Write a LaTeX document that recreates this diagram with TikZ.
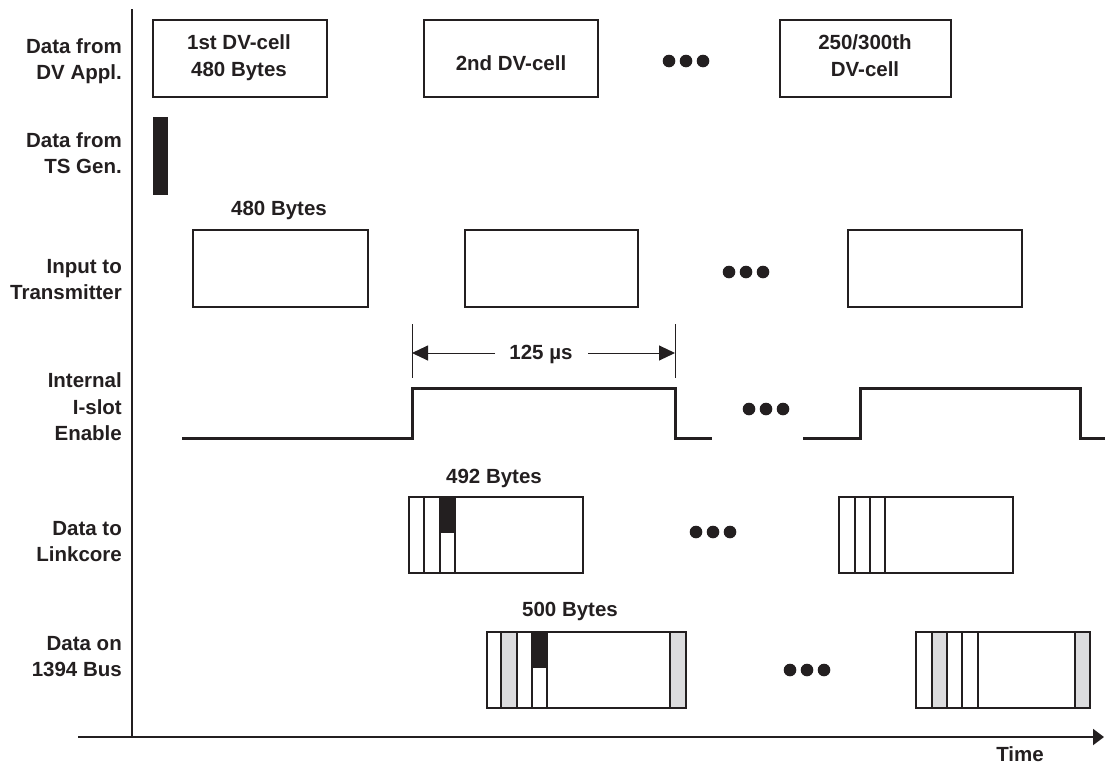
\documentclass[tikz,border=0pt]{standalone}
\usepackage{fontspec}
\setmainfont{Liberation Sans}
\usetikzlibrary{arrows.meta}
\definecolor{ink}{RGB}{35,31,32}
\definecolor{cellgray}{RGB}{220,220,222}
\tikzset{
  lbl/.style={font=\fontsize{20.5}{26}\selectfont\bfseries, text=ink, inner sep=0pt},
  rowlbl/.style={lbl, anchor=base east},
  ctext/.style={lbl, anchor=base},
  cell/.style={draw=ink, line width=1.3pt},
  divider/.style={draw=ink, line width=1.2pt},
  signal/.style={draw=ink, line width=3pt},
  dotmark/.style={fill=ink, draw=none},
  dimline/.style={draw=ink, line width=0.8pt},
  dimarrow/.style={draw=ink, line width=1pt, -{Triangle[length=16pt,width=15pt]}},
  axis/.style={draw=ink, line width=1.3pt},
}
\newcommand{\threedots}[2]{%
  \fill[dotmark] (#1-17,#2) circle (6.3);
  \fill[dotmark] (#1,#2) circle (6.3);
  \fill[dotmark] (#1+17,#2) circle (6.3);}
\begin{document}
\begin{tikzpicture}[x=1pt,y=-1pt]
\useasboundingbox (0,0) rectangle (1105,766);
% axes
\coordinate (vtop) at (132,9);
\coordinate (vbot) at (132,737);
\coordinate (hleft) at (78,737);
\coordinate (hright) at (1104,737);
\draw[axis] (vtop) -- (vbot);
\draw[axis, line width=2pt, -{Triangle[length=11pt,width=16pt]}] (hleft) -- (hright);
\node[ctext] (time) at (1020,761) {Time};
% row labels
\node[rowlbl] (l1a) at (122,53) {Data from};
\node[rowlbl] (l1b) at (122,79) {DV Appl.};
\node[rowlbl] (l2a) at (122,147) {Data from};
\node[rowlbl] (l2b) at (122,173) {TS Gen.};
\node[rowlbl] (l3a) at (122,273) {Input to};
\node[rowlbl] (l3b) at (122,299) {Transmitter};
\node[rowlbl] (l4a) at (122,387) {Internal};
\node[rowlbl] (l4b) at (122,414) {I-slot};
\node[rowlbl] (l4c) at (122,440) {Enable};
\node[rowlbl] (l5a) at (122,535) {Data to};
\node[rowlbl] (l5b) at (122,561) {Linkcore};
\node[rowlbl] (l6a) at (122,650) {Data on};
\node[rowlbl] (l6b) at (122,676) {1394 Bus};
% row 1: DV application cells
\draw[cell] (153,20) rectangle (327,97);
\node[ctext] (c1a) at (239,49) {1st DV-cell};
\node[ctext] (c1b) at (239,76) {480 Bytes};
\draw[cell] (424,20) rectangle (598,97);
\node[ctext] (c2) at (511,70) {2nd DV-cell};
\threedots{686}{61}
\draw[cell] (780,20) rectangle (951,97);
\node[ctext] (c3a) at (865,49) {250/300th};
\node[ctext] (c3b) at (865,76) {DV-cell};
% row 2: TS generator
\fill[ink] (153,117) rectangle (168,195);
% row 3: input to transmitter
\node[ctext] (b480) at (279,215) {480 Bytes};
\draw[cell] (193,230) rectangle (368,307);
\draw[cell] (465,230) rectangle (638,307);
\threedots{746}{272}
\draw[cell] (848,230) rectangle (1022,307);
% 125 us dimension
\coordinate (d1t) at (412,324);
\coordinate (d1b) at (412,378);
\coordinate (d2t) at (675,324);
\coordinate (d2b) at (675,378);
\draw[dimline] (d1t) -- (d1b);
\draw[dimline] (d2t) -- (d2b);
\node[ctext] (us) at (541,359) {125 µs};
\coordinate (a1s) at (495,353);
\coordinate (a1e) at (412,353);
\coordinate (a2s) at (588,353);
\coordinate (a2e) at (675,353);
\draw[dimarrow] (a1s) -- (a1e);
\draw[dimarrow] (a2s) -- (a2e);
% row 4: I-slot enable signal
\draw[signal] (182,438) -- (412,438) -- (412,388) -- (675,388) -- (675,438) -- (712,438);
\threedots{766}{409}
\draw[signal] (803,438) -- (860,438) -- (860,388) -- (1080,388) -- (1080,438) -- (1105,438);
% row 5: data to linkcore
\node[ctext] (b492) at (494,483) {492 Bytes};
\fill[ink] (440,497) rectangle (455,533);
\draw[cell] (409,497) rectangle (583,573);
\foreach \x in {424,440,455} \draw[divider] (\x,497) -- (\x,573);
\threedots{713}{532}
\draw[cell] (839,497) rectangle (1013,573);
\foreach \x in {855,870,885} \draw[divider] (\x,497) -- (\x,573);
% row 6: data on 1394 bus
\node[ctext] (b500) at (570,616) {500 Bytes};
\fill[cellgray] (501,632) rectangle (517,708);
\fill[cellgray] (670,632) rectangle (686,708);
\fill[ink] (532,632) rectangle (547,668);
\draw[cell] (487,632) rectangle (686,708);
\foreach \x in {501,517,532,547,670} \draw[divider] (\x,632) -- (\x,708);
\threedots{807}{670}
\fill[cellgray] (932,632) rectangle (947,708);
\fill[cellgray] (1075,632) rectangle (1090,708);
\draw[cell] (916,632) rectangle (1090,708);
\foreach \x in {932,947,962,978,1075} \draw[divider] (\x,632) -- (\x,708);
\end{tikzpicture}
\end{document}
